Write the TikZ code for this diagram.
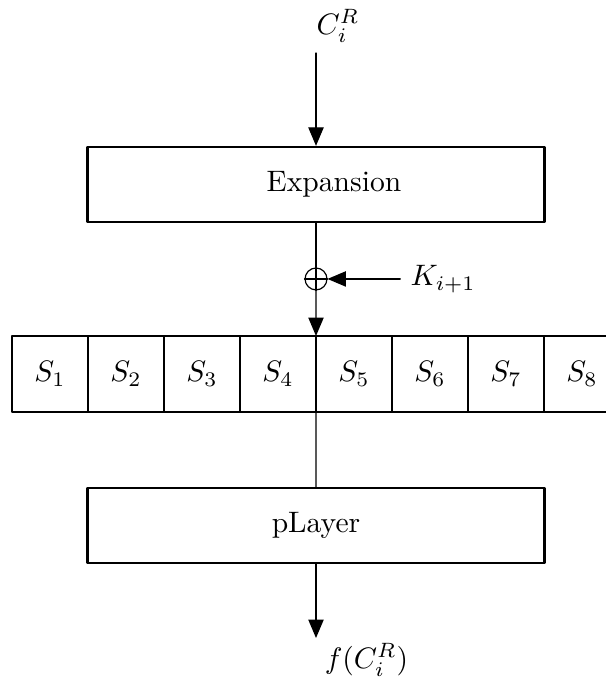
\documentclass[tikz,border=0pt]{standalone}
\usepackage{amsmath,amssymb}
\usepackage{tikz}
\usetikzlibrary{arrows}

\begin{document}
\begin{tikzpicture}[line cap=round,line join=round,>=triangle 45,x=1.0cm,y=1.0cm,
  layerbox/.style={draw=black,line width=0.8pt,minimum width=5.43cm,minimum height=0.89cm,inner sep=0pt},
  sbox/.style={draw=black,line width=0.8pt,minimum width=0.9026cm,minimum height=0.903cm,inner sep=0pt,outer sep=0pt}]
\useasboundingbox (-3.753,0) rectangle (3.444,8.159);
\clip (-3.753,0) rectangle (3.444,8.159);
% input
\node[anchor=west] (cin) at (-0.117,7.85) {$C_i^R$};
\coordinate (cintop) at (0,7.53);
% expansion
\node[layerbox] (exp) at (0,5.968) {};
\node (explabel) at (0.214,5.974) {Expansion};
\draw[->,color=black] (cintop) -- (exp.north);
% key addition
\node[draw=black,circle,minimum size=0.26cm,inner sep=0pt] (xor) at (0,4.846) {};
\draw (xor.north) -- (xor.south);
\draw (xor.west) -- (xor.east);
\node[anchor=west] (key) at (1.0,4.846) {$K_{i+1}$};
\draw[->,color=black] (key.west) -- (xor.east);
\draw[color=black] (exp.south) -- (xor.north);
% s-boxes
\foreach \i in {1,...,8}
\node[sbox] (s\i) at ({-3.6104+(\i-0.5)*0.9026},3.7175) {$S_{\i}$};
\draw[->,color=black] (xor.south) -- (s4.north east);
% permutation layer
\node[layerbox] (play) at (0,1.918) {pLayer};
\draw[color=black] (s4.south east) -- (play.north);
% output
\coordinate (outend) at (0,0.582);
\draw[->,color=black] (play.south) -- (outend);
\node[anchor=west] (fout) at (-0.02,0.321) {$f(C_i^R)$};
\end{tikzpicture}
\end{document}
